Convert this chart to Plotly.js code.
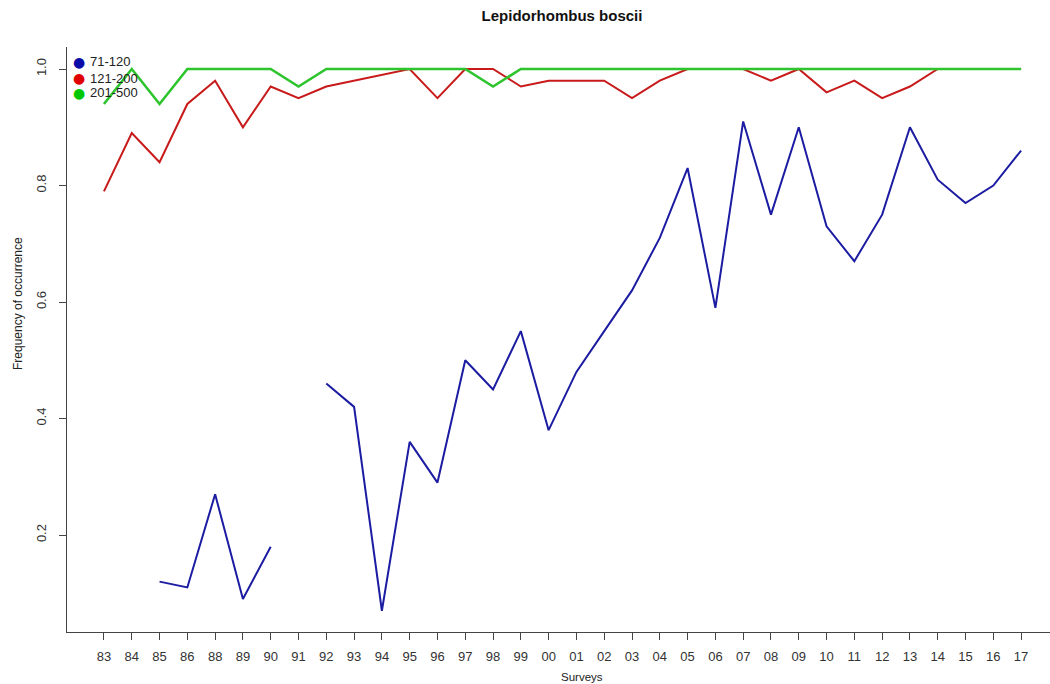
<!DOCTYPE html>
<html>
<head>
<meta charset="utf-8">
<script src="https://cdn.plot.ly/plotly-3.0.1.min.js"></script>
<style>
  html, body { margin: 0; padding: 0; background: #ffffff; }
  #chart { width: 1050px; height: 684px; }
</style>
</head>
<body>
<div id="chart"></div>
<script>
// Survey years (1987 was not surveyed)
const surveys = ['83','84','85','86','88','89','90','91','92','93','94','95','96','97','98','99',
                 '00','01','02','03','04','05','06','07','08','09','10','11','12','13','14','15','16','17'];

// Frequency of occurrence by depth stratum (m)
const depth71_120 = [null,null,0.12,0.11,0.27,0.09,0.18,null,
                     0.46,0.42,0.07,0.36,0.29,0.50,0.45,0.55,
                     0.38,0.48,0.55,0.62,0.71,0.83,0.59,0.91,0.75,0.90,0.73,0.67,0.75,0.90,0.81,0.77,0.80,0.86];
const depth121_200 = [0.79,0.89,0.84,0.94,0.98,0.90,0.97,0.95,
                      0.97,0.98,0.99,1.00,0.95,1.00,1.00,0.97,
                      0.98,0.98,0.98,0.95,0.98,1.00,1.00,1.00,0.98,1.00,0.96,0.98,0.95,0.97,1.00,1.00,1.00,1.00];
const depth201_500 = [0.94,1.00,0.94,1.00,1.00,1.00,1.00,0.97,
                      1.00,1.00,1.00,1.00,1.00,1.00,0.97,1.00,
                      1.00,1.00,1.00,1.00,1.00,1.00,1.00,1.00,1.00,1.00,1.00,1.00,1.00,1.00,1.00,1.00,1.00,1.00];

const seriesNames = ['71-120', '121-200', '201-500'];
const lineColors = ['#1c1ca2', '#c81a1a', '#2ec42e'];
const dotColors = ['#0a0aa8', '#e00000', '#00c800'];
const lineWidths = [2, 2, 2.6];

const yTicks = [0.2, 0.4, 0.6, 0.8, 1.0];
const yTickText = ['0.2', '0.4', '0.6', '0.8', '1.0'];

const FONT = 'Liberation Sans, Arial, sans-serif';

const values = [depth71_120, depth121_200, depth201_500];
const traces = values.map((v, i) => ({
  type: 'scatter',
  mode: 'lines',
  x: surveys,
  y: v,
  name: seriesNames[i],
  connectgaps: false,
  line: { color: lineColors[i], width: lineWidths[i] },
  showlegend: false,
  hoverinfo: 'x+y+name'
}));

// Key in the upper-left corner of the plotting region
const rowsY = [0.9744, 0.9470, 0.9214];
const annotations = [];
seriesNames.forEach((n, i) => {
  annotations.push({
    xref: 'paper', yref: 'paper', x: 0.0122, y: rowsY[i],
    xanchor: 'center', yanchor: 'middle', showarrow: false,
    text: '\u25CF', font: { family: 'DejaVu Sans', size: 14, color: dotColors[i] }
  });
  annotations.push({
    xref: 'paper', yref: 'paper', x: 0.0215, y: rowsY[i],
    xanchor: 'left', yanchor: 'middle', showarrow: false,
    text: n, font: { family: FONT, size: 13, color: '#222' }
  });
});

// Axis titles
annotations.push({
  xref: 'paper', yref: 'paper', x: 0.524, y: -0.0769,
  xanchor: 'center', yanchor: 'middle', showarrow: false,
  text: 'Surveys', font: { family: FONT, size: 11.5, color: '#222' }
});
annotations.push({
  xref: 'paper', yref: 'paper', x: -0.0498, y: 0.5607,
  xanchor: 'center', yanchor: 'middle', showarrow: false, textangle: -90,
  text: 'Frequency of occurrence', font: { family: FONT, size: 12, color: '#222' }
});

const axisFont = { family: FONT, size: 13, color: '#333' };

const layout = {
  width: 1050,
  height: 684,
  paper_bgcolor: '#ffffff',
  plot_bgcolor: '#ffffff',
  margin: { l: 67, r: 0, t: 47, b: 52, pad: 0 },
  title: {
    text: '<b>Lepidorhombus boscii</b>',
    font: { family: FONT, size: 15, color: '#111' },
    xref: 'paper', x: 0.5036, xanchor: 'center',
    yref: 'container', y: 0.977, yanchor: 'middle'
  },
  xaxis: {
    type: 'category',
    range: [-1.33, 34.04],
    tickmode: 'linear', tick0: 0, dtick: 1,
    showline: true, linecolor: '#444', linewidth: 1,
    ticks: 'outside', ticklen: 7, tickcolor: '#444', tickwidth: 1,
    showgrid: false, zeroline: false,
    tickfont: axisFont,
    ticklabelstandoff: 5
  },
  yaxis: {
    range: [0.0335, 1.0378],
    tickmode: 'array', tickvals: yTicks, ticktext: yTickText,
    tickangle: -90,
    showline: true, linecolor: '#444', linewidth: 1,
    ticks: 'outside', ticklen: 7, tickcolor: '#444', tickwidth: 1,
    showgrid: false, zeroline: false,
    tickfont: axisFont,
    ticklabelstandoff: 8
  },
  annotations: annotations,
  showlegend: false
};

Plotly.newPlot('chart', traces, layout, { displayModeBar: false, staticPlot: true });
</script>
</body>
</html>
